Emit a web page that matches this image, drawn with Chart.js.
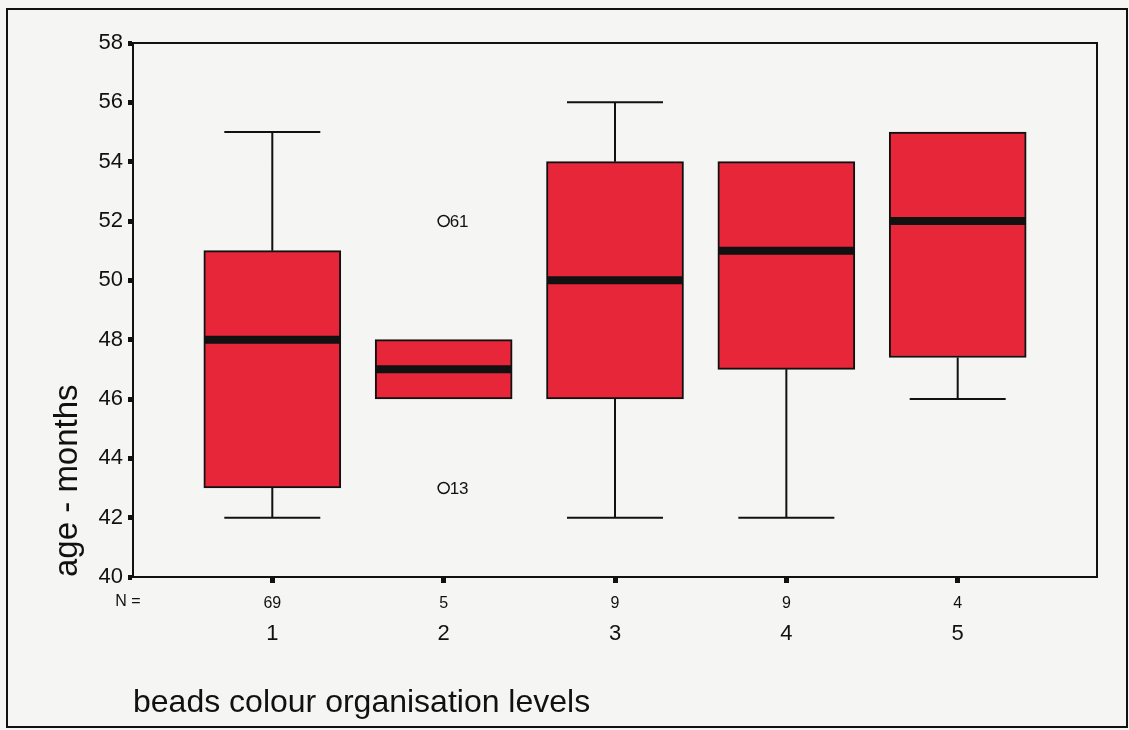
<!DOCTYPE html>
<html>
<head>
<meta charset="utf-8">
<title>age - months by beads colour organisation levels</title>
<script src="https://cdn.jsdelivr.net/npm/chart.js@4/dist/chart.umd.min.js"></script>
<style>
  html, body { margin: 0; padding: 0; background: #f5f5f3; overflow: hidden; }
  #wrap { width: 1129px; height: 730px; position: relative; }
</style>
</head>
<body>
<div id="wrap"><canvas id="box" width="1129" height="730"></canvas></div>
<script>
// data
const levels = [1, 2, 3, 4, 5];
const counts = [69, 5, 9, 9, 4];
const minVals = [42, 46, 42, 42, 46];
const q1Vals = [43, 46, 46, 47, 47.4];
const medians = [48, 47, 50, 51, 52];
const q3Vals = [51, 48, 54, 54, 55];
const maxVals = [55, 48, 56, 54, 55];
const outlierLevel = [2, 2];
const outlierAge = [52, 43];
const outlierCase = ["61", "13"];
const yTicks = [40, 42, 44, 46, 48, 50, 52, 54, 56, 58];

const FONT = "'Liberation Sans', Arial, Helvetica, sans-serif";
const RED = "#e8263a";

// whisker stems (gaps between segments)
const stems = [];
const caps = [];
levels.forEach((lv, i) => {
    if (maxVals[i] > q3Vals[i]) {
        stems.push({ x: lv, y: q3Vals[i] }, { x: lv, y: maxVals[i] }, { x: lv, y: null });
        caps.push({ x: lv, y: maxVals[i] });
    }
    if (minVals[i] < q1Vals[i]) {
        stems.push({ x: lv, y: q1Vals[i] }, { x: lv, y: minVals[i] }, { x: lv, y: null });
        caps.push({ x: lv, y: minVals[i] });
    }
});

const framePlugin = {
    id: "frame",
    beforeDraw(chart) {
        const c = chart.ctx;
        c.save();
        c.fillStyle = "#f5f5f3";
        c.fillRect(0, 0, chart.width, chart.height);
        c.strokeStyle = "#111";
        c.lineWidth = 2;
        c.strokeRect(7, 9, 1120, 718);
        c.restore();
    },
    afterDatasetsDraw(chart) {
        const c = chart.ctx, a = chart.chartArea;
        const xs = chart.scales.x, ys = chart.scales.y;
        c.save();
        c.strokeStyle = "#111";
        c.lineWidth = 2;
        c.strokeRect(a.left, a.top, a.right - a.left, a.bottom - a.top);
        // outlier case numbers
        c.fillStyle = "#111";
        c.font = "17px " + FONT;
        c.textBaseline = "middle";
        c.textAlign = "left";
        outlierCase.forEach((t, i) => {
            c.fillText(t, xs.getPixelForValue(outlierLevel[i]) + 6, ys.getPixelForValue(outlierAge[i]) + 1);
        });
        // "N =" label in front of the counts row
        c.font = "16px " + FONT;
        c.textAlign = "center";
        c.fillText("N =", 128, 602);
        c.restore();
    }
};

const fixTicks = (scale) => { scale.ticks = levels.map((v) => ({ value: v })); };
const noPad = (s) => { s.paddingTop = 0; s.paddingBottom = 0; s.paddingLeft = 0; s.paddingRight = 0; };

new Chart(document.getElementById("box"), {
    plugins: [framePlugin],
    data: {
        datasets: [
            {
                type: "scatter",
                data: levels.map((lv, i) => ({ x: lv, y: medians[i] })),
                pointStyle: "line",
                pointRadius: 68,
                pointBorderWidth: 8,
                borderColor: "#111",
                order: 0
            },
            {
                type: "scatter",
                data: outlierLevel.map((lv, i) => ({ x: lv, y: outlierAge[i] })),
                pointStyle: "circle",
                pointRadius: 5.5,
                pointBorderWidth: 1.5,
                borderColor: "#111",
                backgroundColor: "rgba(0,0,0,0)",
                order: 1
            },
            {
                type: "bar",
                data: levels.map((lv, i) => ({ x: lv, y: [q1Vals[i], q3Vals[i]] })),
                backgroundColor: RED,
                borderColor: "#111",
                borderWidth: 2,
                borderSkipped: false,
                barThickness: 137,
                order: 2
            },
            {
                type: "scatter",
                data: caps,
                pointStyle: "line",
                pointRadius: 48,
                pointBorderWidth: 2,
                borderColor: "#111",
                order: 3
            },
            {
                type: "line",
                data: stems,
                borderColor: "#111",
                borderWidth: 2,
                pointRadius: 0,
                spanGaps: false,
                order: 4
            }
        ]
    },
    options: {
        responsive: false,
        animation: false,
        events: [],
        devicePixelRatio: 1,
        layout: { autoPadding: false, padding: { left: 0, top: 43, right: 32, bottom: 0 } },
        plugins: { legend: { display: false }, tooltip: { enabled: false } },
        scales: {
            x: {
                type: "linear",
                position: "bottom",
                min: 0.187,
                max: 5.813,
                offset: false,
                afterBuildTicks: fixTicks,
                afterFit: (s) => { s.height = 40; noPad(s); },
                border: { display: true, color: "#111", width: 2 },
                grid: { offset: false, drawOnChartArea: false, color: "#111", tickLength: 6, tickWidth: 5 },
                ticks: {
                    color: "#111",
                    font: { family: FONT, size: 16 },
                    padding: 11,
                    maxRotation: 0,
                    callback: (v) => counts[levels.indexOf(v)]
                }
            },
            x2: {
                type: "linear",
                position: "bottom",
                min: 0.187,
                max: 5.813,
                offset: false,
                afterBuildTicks: fixTicks,
                afterFit: (s) => { s.height = 113; noPad(s); },
                border: { display: false },
                grid: { display: false, offset: false },
                ticks: {
                    color: "#111",
                    font: { family: FONT, size: 22 },
                    padding: -4,
                    maxRotation: 0,
                    callback: (v) => String(v)
                },
                title: {
                    display: true,
                    text: "beads colour organisation levels",
                    align: "start",
                    color: "#111",
                    font: { family: FONT, size: 32 },
                    padding: { top: 0, bottom: 8 }
                }
            },
            y: {
                type: "linear",
                min: 40,
                max: 58,
                afterBuildTicks: (s) => { s.ticks = yTicks.map((v) => ({ value: v })); },
                afterFit: (s) => { s.width = 133; noPad(s); },
                border: { display: true, color: "#111", width: 2 },
                grid: { drawOnChartArea: false, color: "#111", tickLength: 5, tickWidth: 5 },
                ticks: {
                    color: "#111",
                    font: { family: FONT, size: 22 },
                    padding: 5
                },
                title: {
                    display: true,
                    text: "age - months",
                    align: "start",
                    color: "#111",
                    font: { family: FONT, size: 33 },
                    padding: { top: 48, bottom: 0 }
                }
            }
        }
    }
});
</script>
</body>
</html>
